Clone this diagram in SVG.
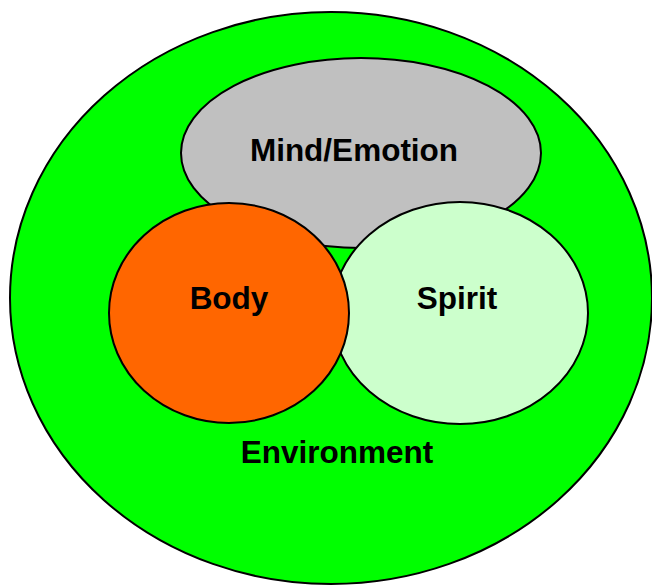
<svg xmlns="http://www.w3.org/2000/svg" width="652" height="585" viewBox="0 0 652 585">
<style>
.shape{stroke:#000;stroke-width:2}
.lbl{font-family:"Liberation Sans",Arial,sans-serif;font-weight:bold;font-size:31.5px;fill:#000;text-anchor:middle}
</style>
<rect width="652" height="585" fill="#fff"/>
<g id="environment">
<ellipse class="shape" cx="331" cy="298" rx="321" ry="286" fill="#00ff00"/>
<text class="lbl" x="337" y="463">Environment</text>
</g>
<g id="mind">
<ellipse class="shape" cx="361" cy="153" rx="180" ry="95" fill="#c0c0c0"/>
<text class="lbl" x="354" y="161">Mind/Emotion</text>
</g>
<g id="spirit">
<ellipse class="shape" cx="460" cy="313" rx="128" ry="111" fill="#ccffcc"/>
<text class="lbl" x="457" y="309">Spirit</text>
</g>
<g id="body">
<ellipse class="shape" cx="229" cy="313" rx="120" ry="110" fill="#ff6600"/>
<text class="lbl" x="229" y="309">Body</text>
</g>
<g id="connectors"/>
</svg>
